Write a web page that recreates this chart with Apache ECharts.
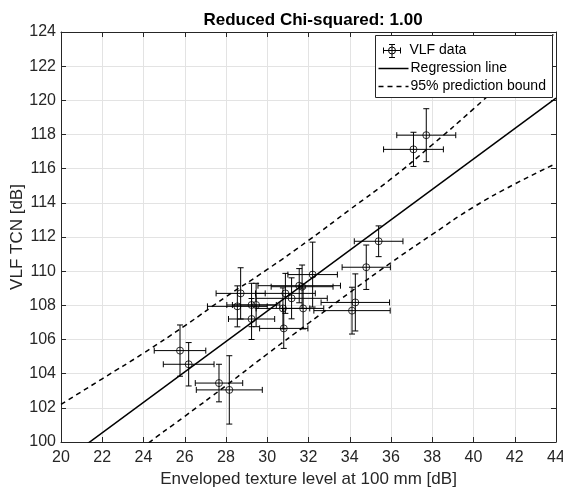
<!DOCTYPE html>
<html>
<head>
<meta charset="utf-8">
<script src="https://cdn.jsdelivr.net/npm/echarts@6/dist/echarts.min.js"></script>
<style>
html,body{margin:0;padding:0;background:#fff;}
#chart{width:563px;height:488px;}
</style>
</head>
<body>
<div id="chart"></div>
<script>
// ---- data ----
var xTicks = [20,22,24,26,28,30,32,34,36,38,40,42,44];
var yTicks = [100,102,104,106,108,110,112,114,116,118,120,122,124];

var dataX   = [25.77, 26.19, 27.66, 28.16, 28.71, 28.55, 29.24, 29.46, 29.24, 30.88, 31.18, 30.76, 30.80, 31.69, 31.55, 31.74, 32.20, 34.27, 34.11, 34.80, 35.40, 37.09, 37.71];
var dataY   = [105.35, 104.55, 103.45, 103.05, 108.70, 107.94, 108.02, 108.02, 107.20, 108.70, 108.41, 107.82, 106.65, 109.09, 109.15, 107.82, 109.80, 108.17, 107.69, 110.23, 111.75, 117.13, 117.96];
var dataXErr= [1.25, 1.23, 1.15, 1.60, 1.19, 1.45, 1.20, 1.15, 1.12, 1.45, 1.73, 1.30, 1.17, 1.50, 2.00, 1.00, 1.20, 1.66, 1.85, 1.17, 1.18, 1.45, 1.43];
var dataYErr= [1.50, 1.27, 1.10, 2.00, 1.50, 1.20, 1.27, 1.27, 1.20, 1.17, 1.20, 1.20, 1.17, 1.27, 1.00, 1.20, 1.90, 1.67, 1.37, 1.30, 0.90, 1.00, 1.55];

var regX = [20, 44];
var regY = [98.76, 120.13];

var boundX = [20, 22, 24, 26, 28, 30, 32, 34, 36, 38, 40, 42, 44];
var upperY = [102.2, 103.7, 105.2, 106.8, 108.5, 110.1, 111.8, 113.6, 115.4, 117.4, 119.5, 121.7, 124.0];
var lowerY = [95.4, 97.6, 99.7, 101.5, 103.3, 105.15, 106.95, 108.75, 110.5, 112.15, 113.75, 115.1, 116.3];

var titleText = 'Reduced Chi-squared: 1.00';
var xName = 'Enveloped texture level at 100 mm [dB]';
var yName = 'VLF TCN [dB]';
var legendNames = ['VLF data', 'Regression line', '95% prediction bound'];

// ---- chart ----
var FONT = '"Liberation Sans", Arial, Helvetica, sans-serif';
var AX = '#262626';
var GRID = '#e3e3e3';

var chart = echarts.init(document.getElementById('chart'), null, {renderer:'canvas'});

function pairs(xs, ys){ return xs.map(function(x,i){ return [x, ys[i]]; }); }
var errData = dataX.map(function(x,i){ return [x, dataY[i], dataXErr[i], dataYErr[i]]; });

function axisCommon(){
  return {
    type:'value',
    axisLine:{show:true, lineStyle:{color:AX, width:1}},
    axisTick:{show:true, inside:true, length:5, lineStyle:{color:AX}},
    axisLabel:{show:true, color:AX, fontFamily:FONT, fontSize:16},
    splitLine:{show:true, lineStyle:{color:GRID, width:1}}
  };
}

var xMain = axisCommon();
Object.assign(xMain, {min:xTicks[0], max:xTicks[xTicks.length-1], interval:2, position:'bottom',
  name:xName, nameLocation:'middle', nameGap:29,
  nameTextStyle:{color:AX, fontFamily:FONT, fontSize:17}});
xMain.axisLabel.margin = 8;
var xTop = axisCommon();
Object.assign(xTop, {min:xTicks[0], max:xTicks[xTicks.length-1], interval:2, position:'top'});
xTop.axisLabel = {show:false}; xTop.splitLine = {show:false};

var yMain = axisCommon();
Object.assign(yMain, {min:yTicks[0], max:yTicks[yTicks.length-1], interval:2, position:'left',
  name:yName, nameLocation:'middle', nameGap:35, nameMoveOverlap:false,
  nameTextStyle:{color:AX, fontFamily:FONT, fontSize:17}});
yMain.axisLabel.margin = 5;
var yRight = axisCommon();
Object.assign(yRight, {min:yTicks[0], max:yTicks[yTicks.length-1], interval:2, position:'right'});
yRight.axisLabel = {show:false}; yRight.splitLine = {show:false};

var LX = 375, LY = 35, LW = 177, LH = 62;
var LZ = 100;
var lineSt = {stroke:'#000', lineWidth:1};

var option = {
  backgroundColor:'#fff',
  animation:false,
  title:{text:titleText, left:308, top:7, textAlign:'center',
    textStyle:{fontFamily:FONT, fontSize:17, fontWeight:'bold', color:'#000'}},
  grid:{left:61, right:7, top:32, bottom:46, outerBoundsMode:'none', containLabel:false},
  xAxis:[xMain, xTop],
  yAxis:[yMain, yRight],
  series:[
    {
      type:'custom', name:legendNames[0], xAxisIndex:0, yAxisIndex:0,
      data:errData, encode:{x:0, y:1}, z:3,
      renderItem:function(params, api){
        var x = api.value(0), y = api.value(1), ex = api.value(2), ey = api.value(3);
        var l = api.coord([x-ex, y]), r = api.coord([x+ex, y]);
        var t = api.coord([x, y+ey]), b = api.coord([x, y-ey]);
        var c = 3;
        var st = {stroke:'#000', lineWidth:1, fill:null};
        function ln(x1,y1,x2,y2){ return {type:'line', shape:{x1:x1,y1:y1,x2:x2,y2:y2}, style:st}; }
        return {type:'group', children:[
          ln(l[0], l[1], r[0], r[1]),
          ln(l[0], l[1]-c, l[0], l[1]+c),
          ln(r[0], r[1]-c, r[0], r[1]+c),
          ln(t[0], t[1], b[0], b[1]),
          ln(t[0]-c, t[1], t[0]+c, t[1]),
          ln(b[0]-c, b[1], b[0]+c, b[1])
        ]};
      }
    },
    {
      type:'scatter', name:legendNames[0]+' markers', data:pairs(dataX, dataY), z:4,
      symbol:'circle', symbolSize:7,
      itemStyle:{color:'rgba(0,0,0,0)', borderColor:'#000', borderWidth:1}
    },
    {
      type:'line', name:legendNames[1], data:pairs(regX, regY), showSymbol:false, symbol:'none',
      clip:true, z:5, lineStyle:{color:'#000', width:1.5}
    },
    {
      type:'line', name:legendNames[2], data:pairs(boundX, upperY), showSymbol:false, symbol:'none',
      smooth:true, clip:true, z:5, lineStyle:{color:'#000', width:1.5, type:[5,4]}
    },
    {
      type:'line', name:legendNames[2]+' lower', data:pairs(boundX, lowerY), showSymbol:false, symbol:'none',
      smooth:true, clip:true, z:5, lineStyle:{color:'#000', width:1.5, type:[5,4]}
    }
  ],
  graphic:[
    {type:'group', left:LX, top:LY, z:LZ, zlevel:1, children:[
      {type:'rect', z:LZ, shape:{x:0, y:0, width:LW, height:LH}, style:{fill:'#fff', stroke:AX, lineWidth:1}},
      // errorbar icon
      {type:'line', z:LZ+1, shape:{x1:8, y1:15, x2:25, y2:15}, style:lineSt},
      {type:'line', z:LZ+1, shape:{x1:8, y1:12, x2:8, y2:18}, style:lineSt},
      {type:'line', z:LZ+1, shape:{x1:25, y1:12, x2:25, y2:18}, style:lineSt},
      {type:'line', z:LZ+1, shape:{x1:16.5, y1:9, x2:16.5, y2:22}, style:lineSt},
      {type:'line', z:LZ+1, shape:{x1:13.5, y1:9, x2:19.5, y2:9}, style:lineSt},
      {type:'line', z:LZ+1, shape:{x1:13.5, y1:22, x2:19.5, y2:22}, style:lineSt},
      {type:'circle', z:LZ+1, shape:{cx:16.5, cy:15, r:3.5}, style:{fill:'none', stroke:'#000', lineWidth:1}},
      {type:'text', z:LZ+1, x:34, y:15, style:{text:legendNames[0], font:'14px '+FONT, fill:'#000', verticalAlign:'middle'}},
      // regression line icon
      {type:'line', z:LZ+1, shape:{x1:3, y1:33, x2:33, y2:33}, style:{stroke:'#000', lineWidth:1.5}},
      {type:'text', z:LZ+1, x:35, y:33, style:{text:legendNames[1], font:'14px '+FONT, fill:'#000', verticalAlign:'middle'}},
      // dashed icon
      {type:'line', z:LZ+1, shape:{x1:3, y1:51, x2:33, y2:51}, style:{stroke:'#000', lineWidth:1.5, lineDash:[5,4]}},
      {type:'text', z:LZ+1, x:35, y:51, style:{text:legendNames[2], font:'14px '+FONT, fill:'#000', verticalAlign:'middle'}}
    ]}
  ]
};

chart.setOption(option);
</script>
</body>
</html>
